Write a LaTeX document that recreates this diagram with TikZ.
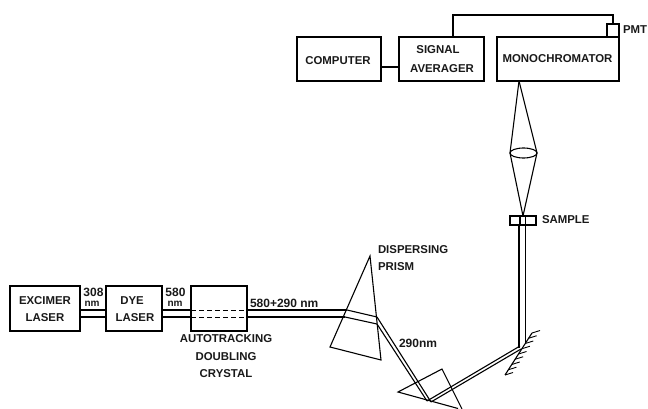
\documentclass[tikz,border=0pt]{standalone}
\usepackage{fontspec}
\setmainfont{Liberation Sans}
\usetikzlibrary{calc}
\tikzset{
 x=1pt,y=-1pt,
 every node/.style={inner sep=0pt,outer sep=0pt},
 lbl/.style={font=\fontsize{11.4}{17}\selectfont\bfseries,align=center,text=black!90},
 numlbl/.style={font=\fontsize{12}{12}\selectfont\bfseries,align=center,text=black!90},
 box/.style={draw,line width=1.1pt,rectangle,lbl},
 ln/.style={line width=1.1pt},
 thin ln/.style={line width=0.9pt},
}
\begin{document}
\begin{tikzpicture}
\useasboundingbox (0,0) rectangle (648,409);
% boxes
\node[box,minimum width=70pt,minimum height=45pt] (exc) at (45,308.5) {};
\node[box,minimum width=56pt,minimum height=45pt] (dye) at (134,308.5) {};
\node[box,minimum width=56pt,minimum height=45pt] (cry) at (219,308.5) {};
\node[box,minimum width=84pt,minimum height=44pt] (com) at (339,59) {};
\node[box,minimum width=85pt,minimum height=44pt] (sig) at (441.5,59) {};
\node[box,minimum width=122pt,minimum height=44pt] (mon) at (558,59) {};
\node[box,minimum width=12pt,minimum height=13pt] (pm) at (613,30.5) {};
\node[box,minimum width=26pt,minimum height=9pt] (smp) at (523,220.5) {};
% labels
\node[lbl] (t1) at (45,301) {EXCIMER};
\node[lbl] (t2) at (45,318) {LASER};
\node[lbl] (t3) at (132,301) {DYE};
\node[lbl] (t4) at (135,318) {LASER};
\node[lbl] (t5) at (338,61) {COMPUTER};
\node[lbl] (t6) at (438,50) {SIGNAL};
\node[lbl] (t7) at (442,69) {AVERAGER};
\node[lbl] (t8) at (557.5,59) {MONOCHROMATOR};
\node[lbl,anchor=west] (pmt) at (623,30) {PMT};
\node[lbl,anchor=west] (sam) at (542,220) {SAMPLE};
\node[numlbl] (a) at (93.5,292) {308};
\node[lbl,font=\fontsize{10}{10}\selectfont\bfseries] (a2) at (92,304) {nm};
\node[numlbl] (b) at (175.5,292) {580};
\node[lbl,font=\fontsize{10}{10}\selectfont\bfseries] (b2) at (175,304) {nm};
\node[numlbl,anchor=west] (c) at (250,303.5) {580+290 nm};
\node[lbl] (d) at (226,339) {AUTOTRACKING};
\node[lbl] (d2) at (226,357) {DOUBLING};
\node[lbl] (d3) at (226,374) {CRYSTAL};
\node[lbl,anchor=west] (e) at (378,250) {DISPERSING};
\node[lbl,anchor=west] (e2) at (378,267) {PRISM};
\node[numlbl,anchor=west] (f) at (399,343) {290nm};
% wires
\draw[ln] (com.east |- 0,67) -- (sig.west |- 0,67);
\draw[ln] (sig.north -| 453,0) -- (453,15) -- (613,15) -- (pm.north);
% beams
\draw[ln] ([yshift=-1.5pt]exc.east) -- ([yshift=-1.5pt]dye.west) ([yshift=-8.5pt]exc.east) -- ([yshift=-8.5pt]dye.west);
\draw[ln] ([yshift=-1.5pt]dye.east) -- ([yshift=-1.5pt]cry.west) ([yshift=-8.5pt]dye.east) -- ([yshift=-8.5pt]cry.west);
\draw[thin ln,dash pattern=on 5pt off 3pt] ([yshift=-1.5pt]cry.west) -- ([yshift=-1.5pt]cry.east) ([yshift=-8.5pt]cry.west) -- ([yshift=-8.5pt]cry.east);
\coordinate (p1) at (347,310);
\coordinate (p2) at (345,317);
\coordinate (q1) at (377,317);
\coordinate (q2) at (377,324);
\coordinate (s1) at (431,402);
\coordinate (s2) at (427,401);
\coordinate (m1) at (521,349);
\coordinate (m2) at (520,346);
\draw[ln] ([yshift=-1.5pt]cry.east) -- (p1) ([yshift=-8.5pt]cry.east) -- (p2);
\draw[ln] (p1) -- (q1) (p2) -- (q2);
% first prism
\draw[ln] (370,256) -- (330,347) -- (381,360) -- cycle;
% to second prism
\draw[ln] (q1) -- (s1) (q2) -- (s2);
% second prism
\draw[ln] (458,408.5) -- (398,392) -- (442,369) -- (462,409);
% to mirror
\draw[ln] (s1) -- (m1) (s2) -- (m2);
% vertical
\draw[ln] (519,348) -- (smp.south -| 519,0) (525.5,344) -- (smp.south -| 525.5,0);
% mirror
\coordinate (ma) at (505,375);
\coordinate (mb) at (532,333);
\draw[ln] (ma) -- (mb);
\foreach \t in {0,0.125,...,1}{
 \draw[thin ln] ($(ma)!\t!(mb)$) -- ++(8,-2.5);
}
% sample
\draw[ln] (520,216) -- (520,225) (525.5,216) -- (525.5,225);
% lens cone
\draw[ln] (mon.south -| 519,0) -- (510,153) -- (smp.north);
\draw[ln] (mon.south -| 519,0) -- (537,153) -- (smp.north);
\draw[ln] (523.5,153) ellipse (13.5 and 5);
\end{tikzpicture}
\end{document}
